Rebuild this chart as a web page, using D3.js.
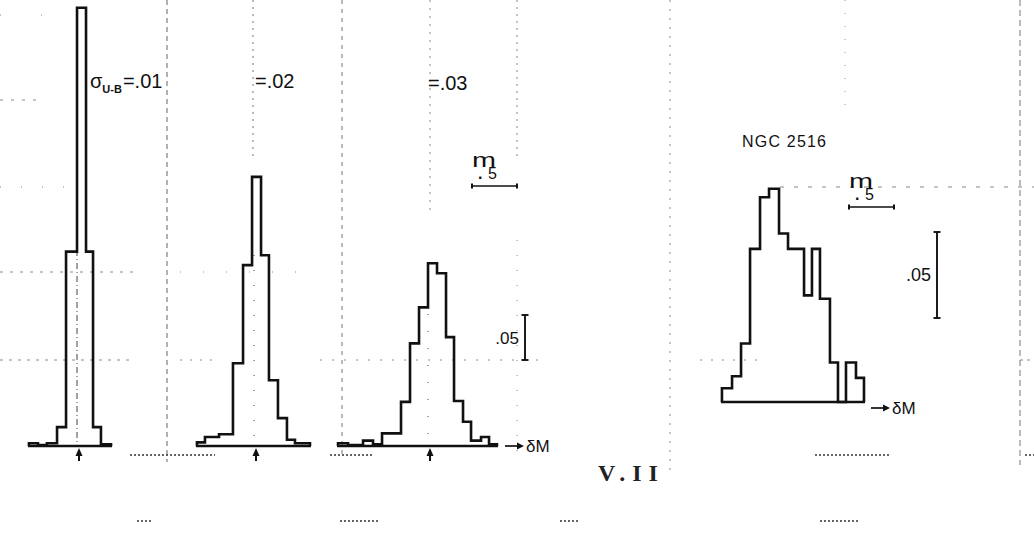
<!DOCTYPE html>
<html>
<head>
<meta charset="utf-8">
<script src="https://cdn.jsdelivr.net/npm/d3@7"></script>
<style>
  body { margin: 0; background: #fff; }
  svg { display: block; }
</style>
</head>
<body>
<svg id="fig" width="1034" height="546" font-family="Liberation Sans, Arial, sans-serif"></svg>
<script>
// Relative frequency per 0.1-mag bin; bin edges are δM (mag) about the mean.
// Simulated cluster, σ(U-B) = .01
const edges1 = [-0.556, -0.456, -0.356, -0.244, -0.144, -0.022, 0.078, 0.156, 0.244, 0.356];
const freq1  = [0.003, 0.001, 0.003, 0.021, 0.216, 0.487, 0.216, 0.021, 0.002];
// σ(U-B) = .02
const edges2 = [-0.656, -0.567, -0.411, -0.256, -0.144, -0.044, 0.056, 0.144, 0.244, 0.344, 0.433, 0.600];
const freq2  = [0.004, 0.010, 0.013, 0.092, 0.201, 0.299, 0.212, 0.073, 0.031, 0.007, 0.003];
// σ(U-B) = .03
const edges3 = [-1.022, -0.911, -0.744, -0.633, -0.533, -0.322, -0.222, -0.122, -0.022, 0.078, 0.178, 0.267, 0.367, 0.456, 0.567, 0.656, 0.744];
const freq3  = [0.003, 0.001, 0.006, 0.002, 0.014, 0.049, 0.114, 0.154, 0.203, 0.192, 0.121, 0.050, 0.027, 0.006, 0.010, 0.002];
// NGC 2516 (observed)
const edges4 = [-0.756, -0.644, -0.544, -0.444, -0.333, -0.233, -0.122, -0.022, 0.156, 0.244, 0.333, 0.444, 0.533, 0.622, 0.733, 0.822];
const freq4  = [0.008, 0.015, 0.034, 0.089, 0.119, 0.124, 0.098, 0.089, 0.062, 0.089, 0.060, 0.023, 0.000, 0.023, 0.014];

// Text labels
const sigmaValues = [".01", ".02", ".03"];
const clusterName = "NGC 2516";
const scaleMagLabel = ["m", ".", "5"];
const scaleFreqLabel = ".05";
const axisLabel = "δM";
const figureLabel = "V.II";

// Scale-bar sizes in data units
const magBar = 0.5;
const freqBar = 0.05;

const svg = d3.select("#fig");
const ink = "#111";

// faint graph-paper rulings behind the figure
const rule = svg.append("g").attr("stroke", "#555").attr("stroke-width", 1).attr("fill", "none");
[[167, 0, 462, "5,4", 0.9], [342, 0, 455, "4,5", 0.8], [517, 0, 160, "2,5", 0.7], [517, 240, 462, "1,14", 0.7],
 [670, 0, 470, "2,7", 0.7], [1020, 0, 465, "6,4", 0.8], [253, 0, 160, "2,5", 0.8], [430, 0, 215, "2,6", 0.7],
 [845, 0, 110, "1,12", 0.6]].forEach(([x, a, b, d, o]) =>
  rule.append("line").attr("x1", x).attr("x2", x).attr("y1", a).attr("y2", b)
      .attr("stroke-dasharray", d).attr("opacity", o));
[[100, 0, 40, "3,8"], [187, 0, 70, "1,20"], [187, 780, 1034, "4,10"], [272, 0, 135, "3,7"],
 [272, 180, 300, "1,22"], [360, 0, 135, "3,6"], [360, 180, 215, "2,8"], [360, 320, 545, "2,10"],
 [360, 700, 760, "2,9"], [360, 1020, 1034, "3,4"], [15, 0, 70, "1,40"]].forEach(([y, a, b, d]) =>
  rule.append("line").attr("y1", y).attr("y2", y).attr("x1", a).attr("x2", b)
      .attr("stroke-dasharray", d).attr("opacity", 0.7));

const panels = [
  { edges: edges1, freq: freq1, cx: 79,  base: 446, unit: 900,  arrow: true, mid: [250, "6,3,1,3"] },
  { edges: edges2, freq: freq2, cx: 256, base: 446, unit: 900,  arrow: true, mid: [255, "1,14"] },
  { edges: edges3, freq: freq3, cx: 430, base: 446, unit: 900,  arrow: true, mid: [280, "1,16"] },
  { edges: edges4, freq: freq4, cx: 790, base: 402, unit: 1720, arrow: false }
];

const magPx = 90; // pixels per magnitude on every panel

panels.forEach(p => {
  p.x = d3.scaleLinear().domain([0, 1]).range([p.cx, p.cx + magPx]);
  p.y = d3.scaleLinear().domain([0, 1]).range([p.base, p.base - p.unit]);
  const g = svg.append("g");

  if (p.mid) {
    g.append("line").attr("x1", p.x(0) - 2).attr("x2", p.x(0) - 2)
      .attr("y1", p.mid[0]).attr("y2", p.base)
      .attr("stroke", "#444").attr("stroke-dasharray", p.mid[1]);
  }

  // step outline of the histogram
  const pts = [[p.edges[0], 0]];
  p.freq.forEach((f, i) => { pts.push([p.edges[i], f]); pts.push([p.edges[i + 1], f]); });
  pts.push([p.edges[p.edges.length - 1], 0]);
  g.append("path")
    .attr("d", d3.line().x(d => p.x(d[0])).y(d => p.y(d[1]))(pts))
    .attr("fill", "none").attr("stroke", ink).attr("stroke-width", 2.6)
    .attr("stroke-linejoin", "miter");

  // base line
  g.append("line")
    .attr("x1", p.x(p.edges[0]) - 1).attr("x2", p.x(p.edges[p.edges.length - 1]) + 1)
    .attr("y1", p.base).attr("y2", p.base)
    .attr("stroke", ink).attr("stroke-width", 2.4);

  // mean marker
  if (p.arrow) {
    const ax = p.x(0);
    g.append("line").attr("x1", ax).attr("x2", ax).attr("y1", p.base + 4).attr("y2", p.base + 15)
      .attr("stroke", ink).attr("stroke-width", 2);
    g.append("path").attr("d", `M${ax - 3.5},${p.base + 10}L${ax},${p.base + 2}L${ax + 3.5},${p.base + 10}Z`)
      .attr("fill", ink);
  }
});

// σ labels above the simulated histograms
const lab = svg.append("g").attr("font-size", 20).attr("fill", ink);
const t1 = lab.append("text").attr("x", 90).attr("y", 88);
t1.append("tspan").text("σ");
t1.append("tspan").attr("font-size", 11).attr("font-weight", "bold").attr("dy", 5).text("U-B");
t1.append("tspan").attr("dy", -5).attr("dx", 1).text("=" + sigmaValues[0]);
lab.append("text").attr("x", 255).attr("y", 88).text("=" + sigmaValues[1]);
lab.append("text").attr("x", 428).attr("y", 90).text("=" + sigmaValues[2]);

svg.append("text").attr("x", 742).attr("y", 147).attr("font-size", 16).attr("fill", ink)
  .attr("letter-spacing", 1.2).text(clusterName);

// scale bars
function magScale(p, x0, y0) {
  const w = p.x(magBar) - p.x(0);
  const g = svg.append("g").attr("stroke", ink);
  g.append("line").attr("x1", x0).attr("x2", x0 + w).attr("y1", y0).attr("y2", y0).attr("stroke-width", 1.7);
  [x0, x0 + w].forEach(x => g.append("line").attr("x1", x).attr("x2", x)
    .attr("y1", y0 - 2.5).attr("y2", y0 + 2.5).attr("stroke-width", 2));
  // "m" over ".5" as one label
  const t = svg.append("text").attr("x", x0).attr("y", y0 - 19).attr("fill", ink);
  t.append("tspan").attr("font-size", 20).attr("textLength", 24).attr("lengthAdjust", "spacingAndGlyphs")
    .text(scaleMagLabel[0]);
  t.append("tspan").attr("x", x0 + 6).attr("dy", 12).attr("font-size", 16).attr("font-weight", "bold")
    .text(scaleMagLabel[1]);
  t.append("tspan").attr("x", x0 + 16).attr("dy", 0).attr("font-size", 16).text(scaleMagLabel[2]);
}
function freqScale(p, x0, yBot, labelSize) {
  const h = p.y(0) - p.y(freqBar);
  const g = svg.append("g").attr("stroke", ink).attr("stroke-width", 1.9);
  g.append("line").attr("x1", x0).attr("x2", x0).attr("y1", yBot).attr("y2", yBot - h);
  [yBot, yBot - h].forEach(y => g.append("line").attr("x1", x0 - 3.5).attr("x2", x0 + 3.5)
    .attr("y1", y).attr("y2", y));
  svg.append("text").attr("x", x0 - 6).attr("y", yBot - h / 2 + 6).attr("text-anchor", "end")
    .attr("font-size", labelSize).attr("fill", ink).text(scaleFreqLabel);
}
magScale(panels[2], 472, 186);
magScale(panels[3], 849, 207);
freqScale(panels[2], 525, 360, 17);
freqScale(panels[3], 937, 318, 18);

// δM axis arrows
function dmArrow(x0, y0) {
  svg.append("line").attr("x1", x0).attr("x2", x0 + 14).attr("y1", y0).attr("y2", y0)
    .attr("stroke", ink).attr("stroke-width", 1.7);
  svg.append("path").attr("d", `M${x0 + 12},${y0 - 3.5}L${x0 + 19},${y0}L${x0 + 12},${y0 + 3.5}Z`).attr("fill", ink);
  svg.append("text").attr("x", x0 + 21).attr("y", y0 + 6).attr("font-size", 17).attr("fill", ink).text(axisLabel);
}
dmArrow(505, 446);
dmArrow(871, 408);

// faded remnants along the lower margin
const rem = svg.append("g").attr("stroke", "#333").attr("stroke-width", 1.6).attr("stroke-dasharray", "2,2");
[[130, 215, 455], [330, 372, 455], [815, 890, 455], [1025, 1034, 455],
 [137, 152, 521], [340, 378, 521], [560, 578, 521], [820, 860, 521]].forEach(([a, b, y]) =>
  rem.append("line").attr("x1", a).attr("x2", b).attr("y1", y).attr("y2", y));
svg.append("text").attr("x", 598).attr("y", 481).attr("font-family", "Liberation Serif, serif")
  .attr("font-weight", "bold").attr("font-size", 24).attr("letter-spacing", 7).attr("fill", "#222")
  .text(figureLabel);
</script>
</body>
</html>
